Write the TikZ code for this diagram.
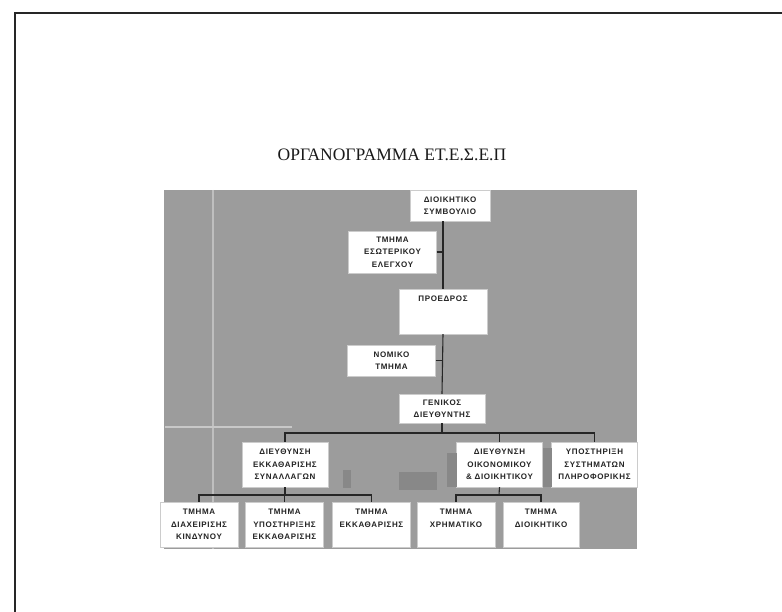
\documentclass[tikz,border=0pt]{standalone}
\usepackage{fontspec}
\setmainfont{Liberation Serif}
\newfontfamily\boxfont[LetterSpace=8]{Liberation Sans}
\usepackage{tikz}
\usetikzlibrary{positioning}

\definecolor{scangray}{RGB}{156,156,156}
\definecolor{blotgray}{RGB}{136,136,136}
\definecolor{inkgray}{RGB}{35,35,35}

\begin{document}
\begin{tikzpicture}
    [
    x=1pt,y=-1pt,
    unit/.style={fill=white,draw=white!80!black,line width=0.4pt,inner sep=0pt,align=center,
      text=inkgray,font=\boxfont\bfseries\fontsize{8}{12.5}\selectfont},
    wide/.style={unit,minimum width=88pt,minimum height=31pt},
    low/.style={unit,minimum width=78pt,minimum height=45pt},
    mid/.style={unit,minimum width=86pt,minimum height=45pt},
    link/.style={draw=black!85,line width=1.1pt},
    ]
    \useasboundingbox (0,0) rectangle (782,612);
    \draw [black!85,line width=1.5pt] (15,612) -- (15,13) -- (782,13);

    \node (title) at (392,155) [font=\fontsize{17.5}{20}\selectfont,text=black!90] {ΟΡΓΑΝΟΓΡΑΜΜΑ ΕΤ.Ε.Σ.Ε.Π};

    \fill [scangray] (164,190) rectangle (637,549);
    \draw [white!35!scangray,line width=1.2pt] (213,190) -- (213,549);
    \draw [white!45!scangray,line width=1.5pt] (165,427) -- (292,427);

    \node (sb) at (450,205.5) [wide,minimum width=80pt] {ΔΙΟΙΚΗΤΙΚΟ\\ΣΥΜΒΟΥΛΙΟ};
    \node (esel) at (392.5,252) [wide,minimum height=42pt] {ΤΜΗΜΑ\\ΕΣΩΤΕΡΙΚΟΥ\\ΕΛΕΓΧΟΥ};
    \node (pr) at (443,311.5) [wide,minimum height=45pt] {ΠΡΟΕΔΡΟΣ\\~\\~};
    \node (nt) at (391.5,360.5) [wide] {ΝΟΜΙΚΟ\\ΤΜΗΜΑ};
    \node (gd) at (442,408.5) [wide,minimum width=86pt,minimum height=29pt] {ΓΕΝΙΚΟΣ\\ΔΙΕΥΘΥΝΤΗΣ};

    \node (d1) at (285,464.5) [mid] {ΔΙΕΥΘΥΝΣΗ\\ΕΚΚΑΘΑΡΙΣΗΣ\\ΣΥΝΑΛΛΑΓΩΝ};
    \node (d2) at (499.5,464.5) [mid] {ΔΙΕΥΘΥΝΣΗ\\ΟΙΚΟΝΟΜΙΚΟΥ\\\& ΔΙΟΙΚΗΤΙΚΟΥ};
    \node (d3) at (594.5,464.5) [mid] {ΥΠΟΣΤΗΡΙΞΗ\\ΣΥΣΤΗΜΑΤΩΝ\\ΠΛΗΡΟΦΟΡΙΚΗΣ};

    \node (t1) at (199,524.5) [low] {ΤΜΗΜΑ\\ΔΙΑΧΕΙΡΙΣΗΣ\\ΚΙΝΔΥΝΟΥ};
    \node (t2) at (284.5,524.5) [low] {ΤΜΗΜΑ\\ΥΠΟΣΤΗΡΙΞΗΣ\\ΕΚΚΑΘΑΡΙΣΗΣ};
    \node (t3) at (371.5,524.5) [low] {ΤΜΗΜΑ\\ΕΚΚΑΘΑΡΙΣΗΣ\\~};
    \node (t4) at (456,524.5) [low] {ΤΜΗΜΑ\\ΧΡΗΜΑΤΙΚΟ\\~};
    \node (t5) at (541,524.5) [low,minimum width=76pt] {ΤΜΗΜΑ\\ΔΙΟΙΚΗΤΙΚΟ\\~};

    \fill [blotgray] (342.5,470) rectangle (350.5,488);
    \fill [blotgray] (399,472) rectangle (437,490);
    \fill [blotgray] (447,453) rectangle (457,487);
    \fill [blotgray] (543,448) rectangle (552,487);

    \coordinate (bus1) at (442,433);
    \coordinate (bus2) at (285,495);
    \coordinate (bus3) at (499,495);

    \draw [link] (sb.south -| pr.north) -- (pr.north);
    \draw [link] (pr.south) -- (gd.north);
    \draw [link] (esel.east) -- (esel.east -| pr.north);
    \draw [link] (nt.east) -- (nt.east -| pr.north);
    \draw [link] (gd.south) -- (bus1);
    \draw [link] (d1.north) |- (bus1) -| (d3.north);
    \draw [link] (d2.north) -- (d2.north |- bus1);
    \draw [link] (d1.south) -- (bus2);
    \draw [link] (t1.north) |- (bus2) -| (t3.north);
    \draw [link] (t2.north) -- (t2.north |- bus2);
    \draw [link] (d2.south) -- (bus3);
    \draw [link] (t4.north) |- (bus3) -| (t5.north);
  \end{tikzpicture}
\end{document}
